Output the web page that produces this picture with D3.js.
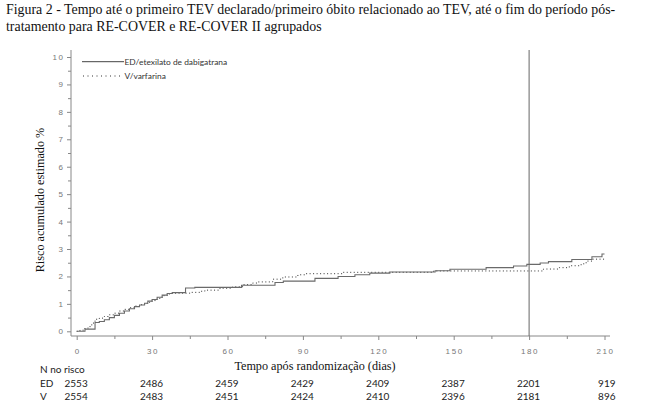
<!DOCTYPE html>
<html>
<head>
<meta charset="utf-8">
<script src="https://cdn.jsdelivr.net/npm/d3@7"></script>
<style>
  body { margin: 0; background: #fff; }
  svg { display: block; }
  .tick-label { font-family: "Liberation Sans", sans-serif; font-size: 8px; fill: #777; letter-spacing: 1.6px; }
  .serif { font-family: "Liberation Serif", "Times New Roman", serif; fill: #111; }
  .table { font-family: Lato, "Open Sans", sans-serif; font-size: 10px; fill: #222; }
  .legend { font-family: Lato, "Open Sans", sans-serif; font-size: 8.4px; fill: #333; }
</style>
</head>
<body>
<svg id="chart" width="647" height="415"></svg>
<script>
// step curves: days and cumulative risk (%)
const edDays = [0, 3.3, 7.3, 9, 11, 13, 15, 17, 19, 21, 23, 25, 27, 28.3, 30, 32, 34, 36, 38, 43.3, 47,
  65.6, 78.9, 82.2, 94.8, 104, 110.7, 116.6, 124.6, 142.6, 148.5, 162.9, 173.8, 179.1, 184.4, 187.7, 197, 205, 209, 210];
const edRisk = [0, 0.08, 0.32, 0.36, 0.42, 0.5, 0.58, 0.66, 0.74, 0.82, 0.9, 0.96, 1.02, 1.1, 1.16, 1.24, 1.32, 1.38, 1.41, 1.58, 1.6,
  1.68, 1.78, 1.83, 1.93, 2.0, 2.06, 2.12, 2.16, 2.21, 2.26, 2.32, 2.38, 2.44, 2.49, 2.54, 2.62, 2.72, 2.82, 2.82];

const vDays = [0, 1.3, 3, 4.5, 6, 7.3, 9, 11, 13, 15, 17, 19, 21, 23, 25, 27, 29, 30, 32, 34, 36, 38, 45, 49, 51, 57,
  62, 66, 70, 72, 78, 82, 88, 91, 106, 142, 183, 185.7, 192, 196, 200.7, 202.7, 205.3, 210];
const vRisk = [0, 0.04, 0.1, 0.17, 0.3, 0.44, 0.48, 0.54, 0.6, 0.66, 0.74, 0.8, 0.86, 0.92, 0.97, 1.02, 1.07, 1.12, 1.2, 1.3, 1.36, 1.39, 1.42, 1.46, 1.5, 1.57,
  1.62, 1.7, 1.76, 1.8, 1.9, 1.98, 2.06, 2.1, 2.15, 2.2, 2.2, 2.27, 2.32, 2.39, 2.46, 2.56, 2.63, 2.63];

const xTicks = [0, 30, 60, 90, 120, 150, 180, 210];
const edAtRisk = [2553, 2486, 2459, 2429, 2409, 2387, 2201, 919];
const vAtRisk = [2554, 2483, 2451, 2424, 2410, 2396, 2181, 896];

const titleLines = [
  "Figura 2 - Tempo até o primeiro TEV declarado/primeiro óbito relacionado ao TEV, até o fim do período pós-",
  "tratamento para RE-COVER e RE-COVER II agrupados"
];

const svg = d3.select("#chart");
const x = d3.scaleLinear().domain([0, 210]).range([76.7, 604.5]);
const y = d3.scaleLinear().domain([0, 10]).range([331.3, 57]);
const axisX = 71, axisY = 336, plotTop = 50;

// title
svg.selectAll("text.title")
  .data(titleLines)
  .enter()
  .append("text")
  .attr("class", "serif title")
  .attr("x", 6)
  .attr("y", (d, i) => 14 + i * 16.5)
  .style("font-size", "13.9px")
  .text(d => d);

// axis lines
svg.append("line").attr("x1", axisX).attr("x2", axisX).attr("y1", plotTop).attr("y2", axisY)
  .attr("stroke", "#888").attr("stroke-width", 1);
svg.append("line").attr("x1", axisX).attr("x2", 610).attr("y1", axisY).attr("y2", axisY)
  .attr("stroke", "#888").attr("stroke-width", 1);

// y ticks
const yAxis = d3.axisLeft(y).tickValues(d3.range(0, 10.5, 0.5)).tickSize(4).tickFormat("");
const gy = svg.append("g").attr("transform", `translate(${axisX},0)`).call(yAxis);
gy.select(".domain").remove();
gy.selectAll(".tick line").attr("stroke", "#888").attr("x2", d => (d % 1 === 0 ? -4 : -3));
svg.selectAll("text.ylab")
  .data(d3.range(0, 11))
  .enter()
  .append("text")
  .attr("class", "tick-label ylab")
  .attr("x", 64.5)
  .attr("y", d => y(d) + 3)
  .attr("text-anchor", "end")
  .text(d => d);

// x ticks
const xAxis = d3.axisBottom(x).tickValues(d3.range(0, 211, 15)).tickSize(4).tickFormat("");
const gx = svg.append("g").attr("transform", `translate(0,${axisY})`).call(xAxis);
gx.select(".domain").remove();
gx.selectAll(".tick line").attr("stroke", "#888").attr("y2", d => (d % 30 === 0 ? 4 : 3));
svg.selectAll("text.xlab")
  .data(xTicks)
  .enter()
  .append("text")
  .attr("class", "tick-label xlab")
  .attr("x", d => x(d) + 1)
  .attr("y", 354)
  .attr("text-anchor", "middle")
  .text(d => d);

// vertical reference at 180 days
svg.append("line").attr("x1", x(180)).attr("x2", x(180)).attr("y1", plotTop).attr("y2", axisY)
  .attr("stroke", "#666").attr("stroke-width", 1);

// curves
const line = d3.line().x(d => x(d[0])).y(d => y(d[1])).curve(d3.curveStepAfter);
svg.append("path")
  .datum(d3.zip(vDays, vRisk))
  .attr("d", line)
  .attr("fill", "none")
  .attr("stroke", "#333")
  .attr("stroke-width", 1)
  .attr("stroke-dasharray", "1,2.5");
svg.append("path")
  .datum(d3.zip(edDays, edRisk))
  .attr("d", line)
  .attr("fill", "none")
  .attr("stroke", "#6a6a6a")
  .attr("stroke-width", 1.1);

// legend
svg.append("line").attr("x1", 82).attr("x2", 124).attr("y1", 61.7).attr("y2", 61.7)
  .attr("stroke", "#444").attr("stroke-width", 1);
svg.append("text").attr("class", "legend").attr("x", 124.5).attr("y", 64.5).text("ED/etexilato de dabigatrana");
svg.append("line").attr("x1", 83).attr("x2", 123).attr("y1", 76).attr("y2", 76)
  .attr("stroke", "#333").attr("stroke-width", 1).attr("stroke-dasharray", "1,3.5");
svg.append("text").attr("class", "legend").attr("x", 124.5).attr("y", 78.5).text("V/varfarina");

// axis titles
svg.append("text").attr("class", "serif")
  .attr("x", 315).attr("y", 369.5)
  .attr("text-anchor", "middle")
  .style("font-size", "12.2px")
  .text("Tempo após randomização (dias)");
svg.append("text").attr("class", "serif")
  .attr("transform", "translate(44,200) rotate(-90)")
  .attr("text-anchor", "middle")
  .style("font-size", "12.2px")
  .text("Risco acumulado estimado %");

// number at risk table
svg.append("text").attr("class", "table").attr("x", 40).attr("y", 372.5).text("N no risco");
[["ED", edAtRisk, 386.5], ["V", vAtRisk, 400]].forEach(([name, vals, yy]) => {
  svg.append("text").attr("class", "table").attr("x", 40).attr("y", yy).text(name);
  svg.selectAll(null)
    .data(vals)
    .enter()
    .append("text")
    .attr("class", "table")
    .attr("x", (d, i) => x(xTicks[i]) + 11)
    .attr("y", yy)
    .attr("text-anchor", "end")
    .text(d => d);
});
</script>
</body>
</html>
